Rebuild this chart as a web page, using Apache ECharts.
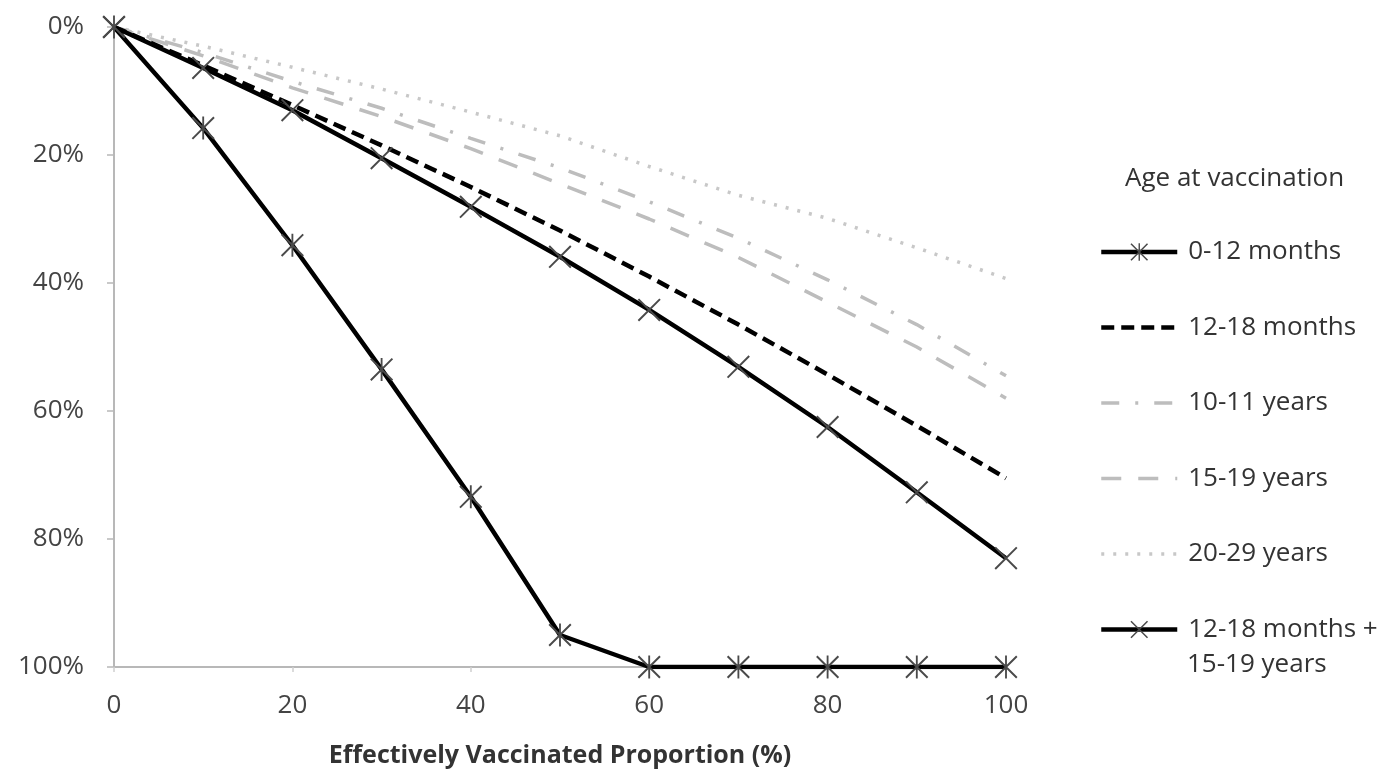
<!DOCTYPE html>
<html>
<head>
<meta charset="utf-8">
<script src="https://cdn.jsdelivr.net/npm/echarts@6/dist/echarts.min.js"></script>
<style>
html,body{margin:0;padding:0;background:#fff;}
#chart{width:1383px;height:778px;}
</style>
</head>
<body>
<div id="chart"></div>
<script>
// Effectively vaccinated proportion (%)
const xValues = [0, 10, 20, 30, 40, 50, 60, 70, 80, 90, 100];
const yTicks = [0, 20, 40, 60, 80, 100];
const xTicks = [0, 20, 40, 60, 80, 100];

// Reduction (%) per age group
const months0to12      = [0, 15.8, 34.1, 53.5, 73.4, 95, 100, 100, 100, 100, 100];
const months12to18     = [0, 6.0, 12.2, 18.5, 25.0, 31.8, 39.0, 46.5, 54.3, 62.3, 70.5];
const years10to11      = [0, 4.0, 8.5, 12.7, 17.4, 22.0, 27.3, 33.0, 39.5, 46.5, 54.5];
const years15to19      = [0, 4.5, 9.5, 14.0, 19.0, 24.5, 30.0, 36.0, 43.0, 50.0, 58.0];
const years20to29      = [0, 3.0, 6.3, 9.7, 13.3, 17.0, 21.8, 26.3, 29.9, 34.5, 39.3];
const combined12to18and15to19 = [0, 6.4, 13.0, 20.5, 28.1, 35.9, 44.2, 53.1, 62.5, 72.7, 83.0];

const seriesNames = ['0-12 months', '12-18 months', '10-11 years', '15-19 years', '20-29 years', '12-18 months + 15-19 years'];

const FONT = '"Open Sans", sans-serif';
const X_PATH = 'path://M0,6L6,0L100,94L94,100ZM94,0L100,6L6,100L0,94Z';
const STAR_PATH = 'path://M0,6L6,0L100,94L94,100ZM94,0L100,6L6,100L0,94ZM46,0L54,0L54,100L46,100Z';

function pairs(arr){ return xValues.map((x,i)=>[x, arr[i]]); }

const chart = echarts.init(document.getElementById('chart'), null, {renderer:'canvas'});

const markerStyle = {color:'#4a4a4a'};
const hiddenSym = {opacity:0};

chart.setOption({
  animation:false,
  backgroundColor:'#fff',
  title:{
    text:'Age at vaccination',
    left:1120, top:161,
    textStyle:{fontFamily:FONT, fontSize:26, fontWeight:'normal', color:'#333'}
  },
  legend:{
    orient:'vertical',
    left:1094, top:234,
    itemWidth:76, itemHeight:22,
    itemGap:49.5,
    data: [
      {name:seriesNames[0], lineStyle:{width:4.5}},
      {name:seriesNames[1], itemStyle:hiddenSym, lineStyle:{width:4.5}},
      {name:seriesNames[2], itemStyle:hiddenSym, lineStyle:{width:3.5}},
      {name:seriesNames[3], itemStyle:hiddenSym, lineStyle:{width:3.5}},
      {name:seriesNames[4], itemStyle:hiddenSym, lineStyle:{width:3.5}},
      {name:seriesNames[5], lineStyle:{width:4.5}}
    ],
    formatter: n => n === '12-18 months + 15-19 years' ? '12-18 months +' : n,
    textStyle:{fontFamily:FONT, fontSize:26, lineHeight:26, color:'#333', padding:[0,0,0,6]}
  },
  graphic:[{
    type:'text', left:1187, top:652,
    style:{text:'15-19 years', font:'26px "Open Sans", sans-serif', fill:'#333'}
  }],
  grid:{left:114, right:377, top:27, bottom:111, containLabel:false},
  xAxis:{
    type:'value', min:0, max:100, interval:20,
    name:'Effectively Vaccinated Proportion (%)',
    nameLocation:'middle', nameGap:76,
    nameTextStyle:{fontFamily:FONT, fontSize:25, fontWeight:'bold', color:'#333'},
    axisLine:{show:true, onZero:false, lineStyle:{color:'#b8b8b8', width:2}},
    axisTick:{show:true, length:5, lineStyle:{color:'#cfcfcf', width:1.5}},
    axisLabel:{fontFamily:FONT, fontSize:26, color:'#444', margin:26,
      formatter: v => xTicks.includes(v) ? String(v) : ''},
    splitLine:{show:false}
  },
  yAxis:{
    type:'value', min:0, max:100, interval:20, inverse:true,
    axisLine:{show:true, onZero:false, lineStyle:{color:'#b8b8b8', width:2}},
    axisTick:{show:true, inside:false, length:7, lineStyle:{color:'#b8b8b8', width:1.5}},
    axisLabel:{fontFamily:FONT, fontSize:26, color:'#444', margin:30,
      formatter: v => yTicks.includes(v) ? v + '%' : ''},
    splitLine:{show:false}
  },
  series:[
    {
      name:seriesNames[0], type:'line', data:pairs(months0to12),
      symbol:STAR_PATH, symbolSize:23, showAllSymbol:true,
      lineStyle:{color:'#000', width:4.5, type:'solid'},
      itemStyle:markerStyle, z:6
    },
    {
      name:seriesNames[1], type:'line', data:pairs(months12to18),
      symbol:'none',
      lineStyle:{color:'#000', width:4.5, type:[13,7]},
      itemStyle:{color:'#000'}, z:4
    },
    {
      name:seriesNames[2], type:'line', data:pairs(years10to11),
      symbol:'none',
      lineStyle:{color:'#bdbdbd', width:3.5, type:[18,16,3,16]},
      itemStyle:{color:'#bdbdbd'}, z:2
    },
    {
      name:seriesNames[3], type:'line', data:pairs(years15to19),
      symbol:'none',
      lineStyle:{color:'#bdbdbd', width:3.5, type:[20,17]},
      itemStyle:{color:'#bdbdbd'}, z:2
    },
    {
      name:seriesNames[4], type:'line', data:pairs(years20to29),
      symbol:'none',
      lineStyle:{color:'#c8c8c8', width:3.5, type:[3,9]},
      itemStyle:{color:'#c8c8c8'}, z:2
    },
    {
      name:seriesNames[5], type:'line', data:pairs(combined12to18and15to19),
      symbol:X_PATH, symbolSize:23, showAllSymbol:true,
      lineStyle:{color:'#000', width:4.5, type:'solid'},
      itemStyle:markerStyle, z:5
    }
  ]
});
</script>
</body>
</html>
